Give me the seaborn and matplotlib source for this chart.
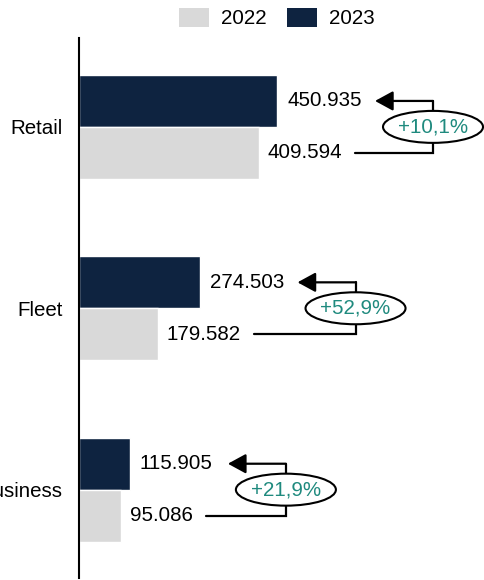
import pandas as pd
import matplotlib
matplotlib.use("Agg")
import matplotlib.pyplot as plt
from matplotlib.patches import Ellipse, Patch
import seaborn as sns

# Data
categories = ["Retail", "Fleet", "Business"]
values_2022 = [409594, 179582, 95086]
values_2023 = [450935, 274503, 115905]
years = ["2022", "2023"]

colors = {"2022": "#d9d9d9", "2023": "#0e2340"}
teal = "#1f8a7e"

sns.set_style("white")
plt.rcParams["font.family"] = ["Liberation Sans", "DejaVu Sans"]
plt.rcParams["text.color"] = "black"
plt.rcParams["ytick.color"] = "black"
plt.rcParams["ytick.labelcolor"] = "black"

df = pd.DataFrame({
    "category": categories * 2,
    "value": values_2023 + values_2022,
    "year": ["2023"] * 3 + ["2022"] * 3,
})

fs = 14.8

fig = plt.figure(figsize=(4.85, 5.8), dpi=100)
ax = fig.add_axes([79 / 485, 2 / 580, 1 - 79 / 485, 540 / 580])

sns.barplot(data=df, y="category", x="value", hue="year", hue_order=["2023", "2022"],
            palette=colors, orient="h", width=0.573, ax=ax, legend=False,
            saturation=1, order=categories)

ax.set_xlim(0, 924600)
ax.set_ylim(2.487, -0.49)
ax.set_xlabel("")
ax.set_ylabel("")
ax.set_xticks([])
ax.tick_params(axis="y", length=0, pad=12, labelsize=fs, labelcolor="black")
for s in ["top", "right", "bottom"]:
    ax.spines[s].set_visible(False)
ax.spines["left"].set_color("black")
ax.spines["left"].set_linewidth(1.5)

def fmt(v):
    return f"{v:,}".replace(",", ".")

px = 924600 / (485 - 79)  # data units per pixel
off = 0.143
labels_2022 = []
for i, (a, b) in enumerate(zip(values_2022, values_2023)):
    ax.text(b + 10 * px, i - off, fmt(b), va="center", ha="left", fontsize=fs)
    t = ax.text(a + 9 * px, i + off, fmt(a), va="center", ha="left", fontsize=fs)
    labels_2022.append(t)

fig.canvas.draw()
inv = ax.transData.inverted()
for i, (a, b) in enumerate(zip(values_2022, values_2023)):
    bb = labels_2022[i].get_window_extent()
    x_start = inv.transform((bb.x1 + 13, 0))[0]
    x_conn = b + 156 * px
    x_tip = b + 98 * px
    ax.plot([x_start, x_conn, x_conn], [i + off, i + off, i - off],
            color="black", lw=1.6, solid_joinstyle="miter", zorder=3)
    ax.annotate("", xy=(x_tip, i - off), xytext=(x_conn, i - off),
                arrowprops=dict(arrowstyle="-|>,head_length=0.55,head_width=0.3",
                                mutation_scale=20, lw=1.6,
                                color="black", shrinkA=0, shrinkB=0), zorder=3)
    ax.add_patch(Ellipse((x_conn, i), width=100 * px, height=32 / 181.5,
                         facecolor="white", edgecolor="black", lw=1.5, zorder=4,
                         clip_on=False))
    pct = (b / a - 1) * 100
    ax.text(x_conn, i, f"+{pct:.1f}%".replace(".", ","), ha="center", va="center",
            fontsize=fs, color=teal, zorder=5)

handles = [Patch(facecolor=colors[y], edgecolor="none", label=y) for y in years]
fig.legend(handles=handles, loc="center", bbox_to_anchor=(277 / 485, 1 - 18 / 580),
           ncol=2, frameon=False, fontsize=fs, handlelength=1.45, handleheight=1.05,
           handletextpad=0.6, columnspacing=1.0)

fig.savefig("out.png", dpi=100)
